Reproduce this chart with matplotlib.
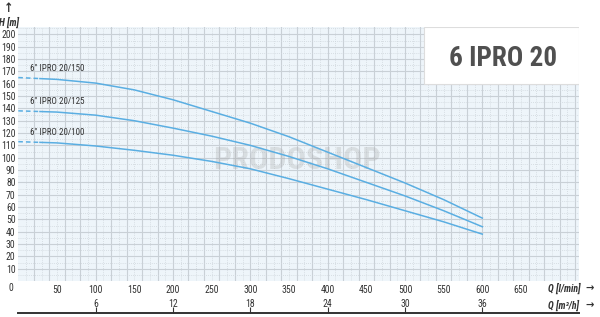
import matplotlib

matplotlib.use("Agg")
import matplotlib.pyplot as plt
from matplotlib import font_manager
from matplotlib.patches import Rectangle

# ── data ─────────────────────────────────────────────────────────────────────
q_lmin = [0, 50, 100, 150, 200, 250, 300, 350, 400, 450, 500, 550, 600]
h_150 = [165, 163.5, 160.5, 155, 147, 137.5, 128, 117, 104.5, 92, 79.5, 66, 51]
h_125 = [138, 137, 134.5, 130, 124, 117.5, 110, 101, 91, 80, 69, 57, 44]
h_100 = [113, 112, 109.5, 106, 102, 97, 91, 83, 74.5, 66, 57, 48, 38]
curve_names = ['6" IPRO 20/150', '6" IPRO 20/125', '6" IPRO 20/100']
dash_end = 28  # l/min, dashed start of every curve

x_labels = [50, 100, 150, 200, 250, 300, 350, 400, 450, 500, 550, 600, 650]
y_labels = list(range(10, 210, 10))
m3h_labels = [6, 12, 18, 24, 30, 36]
title = "6 IPRO 20"

_LINE = "#5aaee2"
_TEXT = "#333333"

# pick a condensed face if one is installed
_names = {f.name for f in font_manager.fontManager.ttflist}
FAM = "DejaVu Sans"
for cand in ["Liberation Sans Narrow", "Roboto Condensed", "Open Sans Condensed"]:
    if cand in _names:
        FAM = cand
        break
plt.rcParams["font.family"] = [FAM, "DejaVu Sans"]
plt.rcParams["font.stretch"] = "condensed"
ARROW = dict(family=["DejaVu Sans"], fontweight="bold")

W, H = 600, 317
fig = plt.figure(figsize=(6, 3.17), dpi=100)
fig.patch.set_facecolor("white")

left, right, top, bottom = 18.3, 579, 27, 281
ax = fig.add_axes([left / W, 1 - bottom / H, (right - left) / W, (bottom - top) / H])
ax.set_facecolor("#eef5fa")
ax.set_xlim(0, 725)
ax.set_ylim(0, 206)

# grid: solid every 20 l/min / 10 m, dotted in between
for x in range(10, 725, 10):
    if x % 20 == 0:
        ax.axvline(x, color="#c9d0d6", lw=0.8, zorder=1)
    else:
        ax.axvline(x, color="#cfd6dc", lw=0.6, ls=(0, (1, 1.5)), zorder=1)
for y in range(5, 206, 5):
    if y % 10 == 0:
        ax.axhline(y, color="#c9d0d6", lw=0.8, zorder=1)
    else:
        ax.axhline(y, color="#cfd6dc", lw=0.6, ls=(0, (1, 1.5)), zorder=1)

for s in ax.spines.values():
    s.set_visible(False)

ax.set_xticks(x_labels)
ax.set_xticklabels([str(v) for v in x_labels])
ax.set_yticks(y_labels)
ax.set_yticklabels([str(v) for v in y_labels])
ax.tick_params(length=0, labelsize=7, colors=_TEXT, pad=2)
ax.tick_params(axis="x", pad=3)
ax.text(-10, -5.5, "0", fontsize=7, color=_TEXT, ha="center", va="center",
        clip_on=False)

# watermark
ax.text(360, 98, "PRODOSHOP", fontsize=23, fontweight="bold", color="#9a9a9a",
        alpha=0.25, ha="center", va="center", zorder=2)

# curves
for h, name in zip([h_150, h_125, h_100], curve_names):
    start = h[0] - (h[0] - h[1]) * dash_end / (q_lmin[1] - q_lmin[0])
    ax.plot([0, dash_end], [h[0], start], color=_LINE, lw=1.1, ls=(0, (3, 2)), zorder=3)
    ax.plot([dash_end] + q_lmin[1:], [start] + h[1:], color=_LINE, lw=1.1, zorder=3)
    ax.text(15, h[0] + 7.5, name, fontsize=6.5, color=_TEXT, ha="left", va="center",
            zorder=4)

# title box
ax.add_patch(Rectangle((0.7236, 0.7756), 0.2764, 0.2244, transform=ax.transAxes,
                       facecolor="white", edgecolor="#dddddd", lw=0.8, zorder=5))
ax.text(0.864, 0.876, title, transform=ax.transAxes, fontsize=19.5, fontweight="bold",
        color="#505050", ha="center", va="center", zorder=6)

# axis names
fig.text(9 / W, 1 - 22.5 / H, "H [m]", fontsize=7, fontweight="bold", style="italic",
         color=_TEXT, ha="center", va="center")
fig.text(9 / W, 1 - 9 / H, "\u2191", fontsize=9, color=_TEXT,
         ha="center", va="center", **ARROW)
fig.text(564 / W, 1 - 288 / H, "Q [l/min]", fontsize=7, fontweight="bold",
         style="italic", color=_TEXT, ha="center", va="center")
fig.text(590 / W, 1 - 288 / H, "\u2192", fontsize=8, color=_TEXT,
         ha="center", va="center", **ARROW)
fig.text(564 / W, 1 - 305 / H, "Q [m\u00b3/h]", fontsize=7, fontweight="bold",
         style="italic", color=_TEXT, ha="center", va="center")
fig.text(590 / W, 1 - 305 / H, "\u2192", fontsize=8, color=_TEXT,
         ha="center", va="center", **ARROW)

# second scale in m3/h
ax2 = fig.add_axes([left / W, 1 - 313 / H, (right - left) / W, 0.0005])
ax2.set_xlim(0, 725 * 0.06)
ax2.set_yticks([])
ax2.patch.set_visible(False)
for k in ("top", "left", "right"):
    ax2.spines[k].set_visible(False)
ax2.spines["bottom"].set_color("#333333")
ax2.spines["bottom"].set_linewidth(1.4)
ax2.set_xticks(m3h_labels)
ax2.set_xticklabels([str(v) for v in m3h_labels])
ax2.tick_params(axis="x", direction="in", length=4, width=0.8, colors=_TEXT,
                labelsize=7, bottom=True, top=False, labelbottom=False,
                labeltop=True, pad=3)

fig.savefig("out.png", dpi=100)
